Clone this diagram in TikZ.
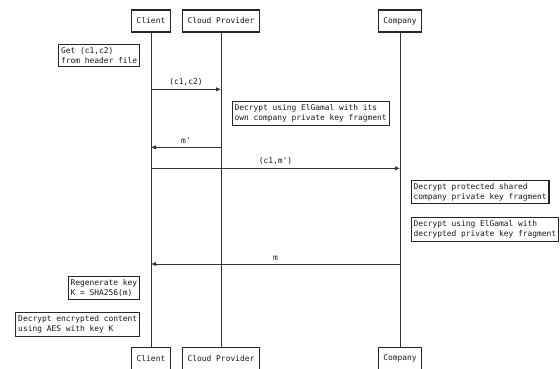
\documentclass[tikz,border=0pt]{standalone}
\usepackage{fontspec}
\setmonofont{DejaVu Sans Mono}
\usetikzlibrary{positioning,arrows.meta}

\begin{document}
\begin{tikzpicture}[
  x = 1pt, y = -1pt,
  every node/.style = {
    font = \ttfamily\fontsize{7.9}{10}\selectfont,
    text = black!90
  },
  party/.style = {
    draw = black!85, line width = 1.1pt, fill = white,
    inner xsep = 5pt, minimum height = 22pt
  },
  note/.style = {
    draw = black!85, line width = 1.1pt, fill = white,
    align = left, inner xsep = 2.3pt, inner ysep = 3pt
  },
  life/.style = {draw = black!80, line width = 0.9pt},
  msg/.style = {draw = black!80, line width = 0.9pt,
    -{Latex[length=5pt,width=4.5pt]}}
]
  \useasboundingbox (0,0) rectangle (560,369);

  % Teilnehmer
  \node[party] (client)  at (151,21)  {Client};
  \node[party] (cloud)   at (221,21)  {Cloud Provider};
  \node[party] (company) at (400,21)  {Company};
  \node[party] (client2)  at (151,358.5) {Client};
  \node[party] (cloud2)   at (221,358.5) {Cloud Provider};
  \node[party] (company2) at (400,358.5) {Company};

  % Lebenslinien
  \draw[life] (client) -- (client2);
  \draw[life] (cloud) -- (cloud2);
  \draw[life] (company) -- (company2);

  % Punkte
  \coordinate (a1) at (151,89.3);  \coordinate (b1) at (221,89.3);
  \coordinate (a2) at (151,147.3); \coordinate (b2) at (221,147.3);
  \coordinate (a3) at (151,168.3); \coordinate (c3) at (400,168.3);
  \coordinate (a4) at (151,264);   \coordinate (c4) at (400,264);

  % Nachrichten
  \draw[msg] (a1) -- node[above] {(c1,c2)} (b1);
  \draw[msg] (b2) -- node[above] {m'} (a2);
  \draw[msg] (a3) -- node[above] {(c1,m')} (c3);
  \draw[msg] (c4) -- node[above] {m} (a4);

  % Notizen
  \node[note, anchor=east] (header) at (140,55.5)
    {Get (c1,c2)\\from header file};
  \node[note, anchor=west] (elgamal) at (231.7,113.5)
    {Decrypt using ElGamal with its\\own company private key fragment};
  \node[note, anchor=west] (shared) at (410.7,192)
    {Decrypt protected shared\\company private key fragment};
  \node[note, anchor=west] (fragment) at (410.7,229.7)
    {Decrypt using ElGamal with\\decrypted private key fragment};
  \node[note, anchor=east] (regen) at (140,287.7)
    {Regenerate key\\K = SHA256(m)};
  \node[note, anchor=east] (aes) at (140,324.7)
    {Decrypt encrypted content\\using AES with key K};
\end{tikzpicture}
\end{document}
